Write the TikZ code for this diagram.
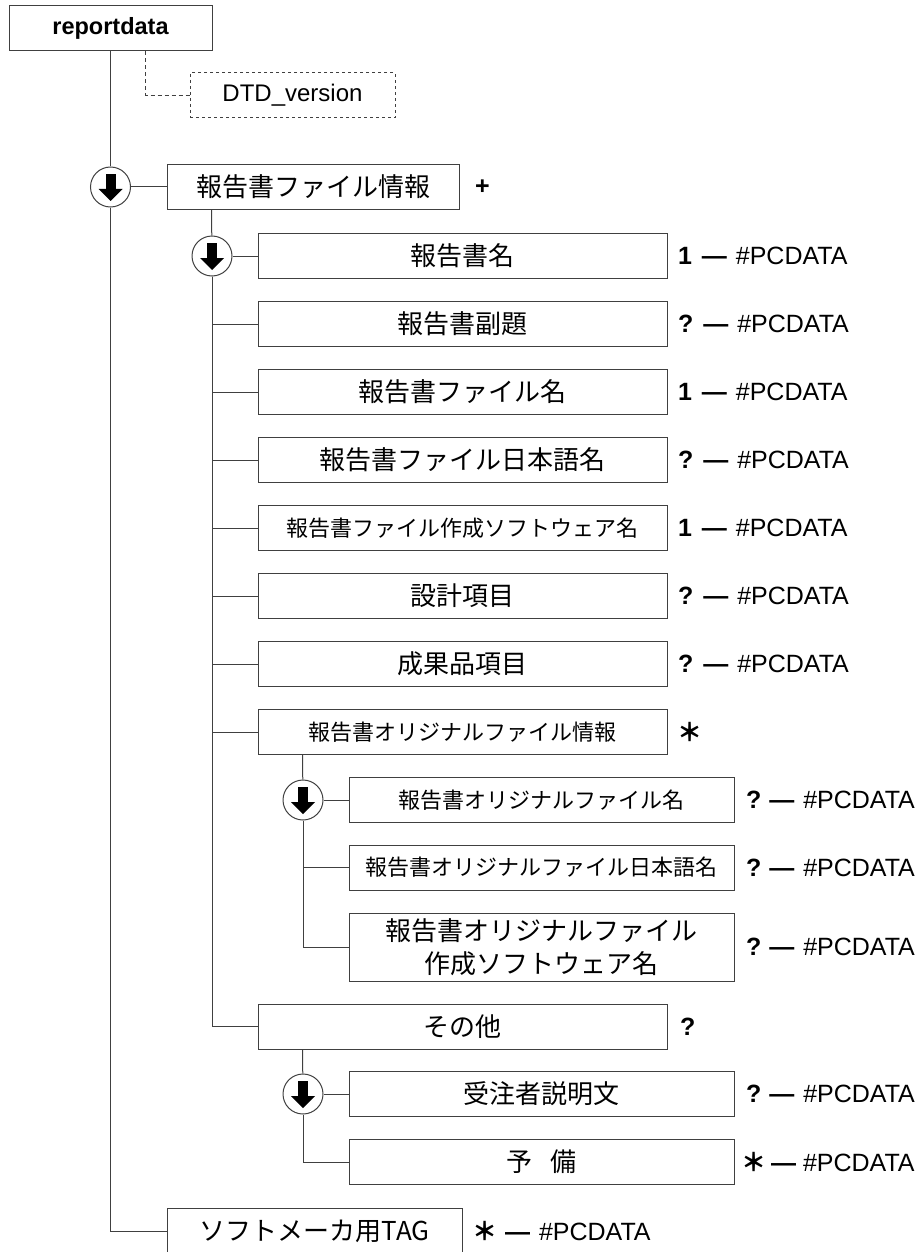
\documentclass[tikz,border=0pt]{standalone}
\usepackage{fontspec}
\setmainfont{Liberation Sans}
\newfontfamily\jp{Noto Sans CJK JP}
\usetikzlibrary{positioning}
\newcommand{\jast}{\makebox[19pt][l]{\hspace{-3pt}\textbf{\jp ＊}}}

\begin{document}
\begin{tikzpicture}
  [x=1pt,y=-1pt,line width=1pt,color=black!75,
   box/.style={draw,rectangle,text=black,minimum height=45pt,inner sep=0pt,align=center,font=\jp\fontsize{26}{33}\selectfont},
   sbox/.style={box,font=\jp\fontsize{22}{26}\selectfont},
   lbl/.style={inner sep=0pt,text=black,font=\fontsize{25}{29}\selectfont},
   sel/.style={circle,draw,fill=white,minimum size=40pt,inner sep=0pt,path picture={
     \fill[black] ([shift={(-5,-13)}]path picture bounding box.center) rectangle ++(10,16);
     \fill[black] ([shift={(-12,2)}]path picture bounding box.center) -- ++(24,0) -- ++(-12,12) -- cycle;}}]
  \useasboundingbox (0,0) rectangle (920,1252);

  % root
  \node[box,font=\bfseries\fontsize{23.5}{27}\selectfont,minimum width=203pt] (rd) at (110.5,28.5) {reportdata};
  \node[box,dashed,font=\fontsize{24}{28}\selectfont,minimum width=205pt] (dtd) at (292.5,95.5) {DTD\_version};
  \node[sel] (c1) at (110.5,187) {};
  \node[box,minimum width=292pt] (info) at (313,187) {報告書ファイル情報};
  \node[box,minimum width=295pt] (tag) at (314.5,1231) {ソフトメーカ用TAG};

  % level 2
  \node[sel] (c2) at (212,256) {};
  \node[box,minimum width=409pt] (mei) at (462.5,256) {報告書名};
  \node[box,minimum width=409pt] (fukudai) at (462.5,324) {報告書副題};
  \node[box,minimum width=409pt] (fmei) at (462.5,392) {報告書ファイル名};
  \node[box,minimum width=409pt] (nmei) at (462.5,460) {報告書ファイル日本語名};
  \node[sbox,minimum width=409pt] (soft) at (462.5,528) {報告書ファイル作成ソフトウェア名};
  \node[box,minimum width=409pt] (sekkei) at (462.5,596) {設計項目};
  \node[box,minimum width=409pt] (seika) at (462.5,664) {成果品項目};
  \node[sbox,minimum width=409pt] (ori) at (462.5,732) {報告書オリジナルファイル情報};
  \node[box,minimum width=409pt] (sonota) at (462.5,1026.5) {その他};

  % level 3
  \node[sel] (c3) at (303,800) {};
  \node[sbox,minimum width=385pt] (omei) at (541.5,800) {報告書オリジナルファイル名};
  \node[sbox,minimum width=385pt] (onmei) at (541.5,867.5) {報告書オリジナルファイル日本語名};
  \node[box,minimum width=385pt,minimum height=68pt] (osoft) at (541.5,947) {報告書オリジナルファイル\\作成ソフトウェア名};
  \node[sel] (c4) at (303,1094) {};
  \node[box,minimum width=385pt] (jutyu) at (541.5,1094) {受注者説明文};
  \node[box,minimum width=385pt] (yobi) at (541.5,1162) {予\hspace{0.7em}備};

  % connectors
  \draw (rd) -- (c1);
  \draw (c1.south) |- (tag.west);
  \draw[dashed,dash pattern=on 4pt off 3pt] ([xshift=35pt]rd.south) |- (dtd.west);
  \draw (c1) -- (info);
  \draw ([xshift=45pt]info.south west) -- (c2);
  \draw (c2) -- (mei);
  \foreach \n in {fukudai,fmei,nmei,soft,sekkei,seika,ori,sonota}
    \draw (c2.south) |- (\n.west);
  \draw ([xshift=45pt]ori.south west) -- (c3);
  \draw (c3) -- (omei);
  \foreach \n in {onmei,osoft}
    \draw (c3.south) |- (\n.west);
  \draw ([xshift=45pt]sonota.south west) -- (c4);
  \draw (c4) -- (jutyu);
  \draw (c4.south) |- (yobi.west);

  % occurrence labels
  \node[lbl,right=15pt of info] (info-l) {\textbf{+}};
  \node[lbl,right=12pt of ori] (ori-l) {\jast};
  \node[lbl,right=12pt of sonota] (sonota-l) {\textbf{?}};
  \foreach \n/\m in {mei/1,fukudai/?,fmei/1,nmei/?,soft/1,sekkei/?,seika/?}
    \node[lbl,right=10pt of \n] (\n-l) {\textbf{\m}\hspace{10pt}\textbf{—}\hspace{9pt}\#PCDATA};
  \foreach \n/\m in {omei/?,onmei/?,osoft/?,jutyu/?}
    \node[lbl,right=11pt of \n] (\n-l) {\textbf{\m}\hspace{8pt}\textbf{—}\hspace{9pt}\#PCDATA};
  \node[lbl,right=9pt of yobi] (yobi-l) {\jast\hspace{8pt}\textbf{—}\hspace{7pt}\#PCDATA};
  \node[lbl,right=12pt of tag] (tag-l) {\jast\hspace{11pt}\textbf{—}\hspace{9pt}\#PCDATA};
\end{tikzpicture}
\end{document}
